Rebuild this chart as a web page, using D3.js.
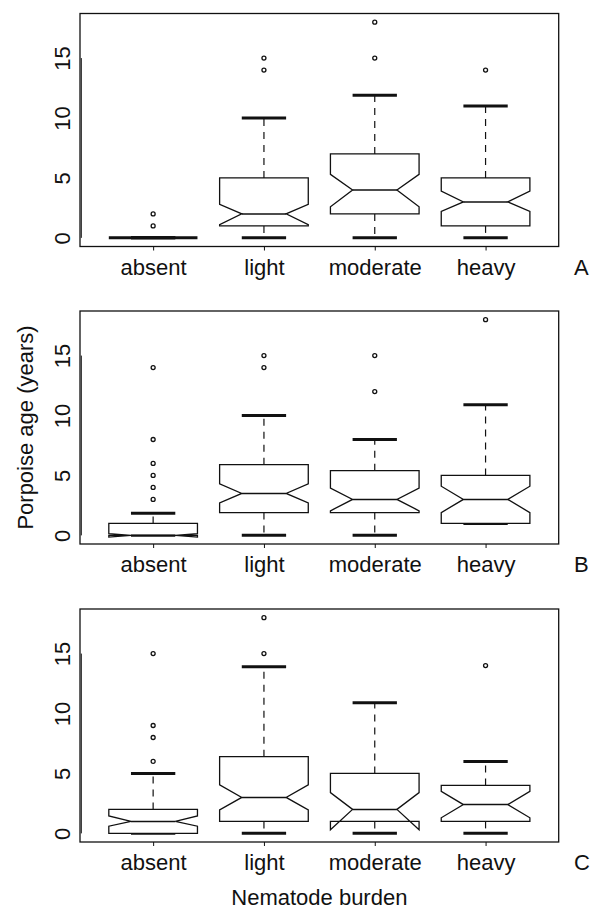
<!DOCTYPE html>
<html><head><meta charset="utf-8">
<script src="https://cdn.jsdelivr.net/npm/d3@7"></script>
<style>
html,body{margin:0;padding:0;background:#fff;}
svg{display:block;}
text{font-family:"Liberation Sans",Arial,Helvetica,sans-serif;fill:#111;}
</style></head>
<body>
<svg id="chart" width="590" height="911"></svg>
<script>
// ---- data ----
const categories = ["absent", "light", "moderate", "heavy"];
const panelLabels = ["A", "B", "C"];
const yTicks = [0, 5, 10, 15];
const yLabel = "Porpoise age (years)";
const xLabel = "Nematode burden";

// rows: panels A, B, C ; columns: absent, light, moderate, heavy
const whiskerLow  = [[0, 0, 0, 0], [0, 0, 0, 1], [0, 0, 0, 0]];
const quart1      = [[0, 1, 2, 1], [0, 1.9, 1.9, 1], [0, 1, 1, 1]];
const medians     = [[0, 2, 4, 3], [0, 3.5, 3, 3], [1, 3, 2, 2.4]];
const quart3      = [[0, 5, 7, 5], [1, 5.9, 5.4, 5], [2, 6.4, 5, 4]];
const whiskerHigh = [[0, 10, 11.9, 11], [1.85, 10, 8, 10.9], [5, 13.9, 10.9, 6]];
const notchLow    = [[0, 1.1, 2.6, 2.2], [-0.15, 2.7, 2.05, 1.9], [0.6, 1.95, 0.3, 1.3]];
const notchHigh   = [[0, 2.8, 5.3, 3.9], [0.15, 4.3, 3.95, 4.1], [1.45, 4.05, 3.4, 3.5]];
const outliers    = [
  [[1, 2], [14, 15], [15, 18], [14]],
  [[3, 4, 5, 6, 8, 14], [14, 15], [12, 15], [18]],
  [[6, 8, 9, 15], [15, 18], [], [14]]
];

// ---- layout ----
const svg = d3.select("#chart");
const left = 80, right = 558.7, frameH = 233;
const tops = [13.5, 311, 609];
const fontSize = 22;

const x = d3.scaleLinear().domain([0.34, 4.66]).range([left, right]);
const halfW = 0.4;   // box half width in category units
const capW = 0.2;    // staple half width

tops.forEach((top, p) => {
  const g = svg.append("g");
  const y = d3.scaleLinear().domain([-0.72, 18.72]).range([top + frameH, top]);

  // frame
  g.append("rect").attr("x", left).attr("y", top).attr("width", right - left).attr("height", frameH)
    .attr("fill", "none").attr("stroke", "#111").attr("stroke-width", 1.3);

  // y axis
  const ya = g.append("g").attr("transform", `translate(${left},0)`)
    .call(d3.axisLeft(y).tickValues(yTicks).tickSize(0).tickPadding(0));
  ya.select(".domain").remove();
  ya.selectAll("text").attr("transform", "rotate(-90)").attr("x", 0).attr("y", -10).attr("dy", 0)
    .attr("text-anchor", "middle").style("font-size", fontSize + "px").style("font-family", null);
  g.append("line").attr("x1", left + 1.3).attr("x2", left + 1.3).attr("y1", y(0)).attr("y2", y(15))
    .attr("stroke", "#111").attr("stroke-width", 1);

  // x axis
  const xa = g.append("g").attr("transform", `translate(0,${top + frameH})`)
    .call(d3.axisBottom(x).tickValues([1, 2, 3, 4]).tickFormat((d, i) => categories[i]).tickSize(4));
  xa.select(".domain").remove();
  xa.selectAll("line").attr("stroke", "#111");
  xa.selectAll("text").attr("y", 28).attr("dy", 0).style("font-size", fontSize + "px").style("font-family", null);

  // panel letter
  g.append("text").attr("x", 574).attr("y", top + frameH + 28).style("font-size", fontSize + "px").text(panelLabels[p]);

  categories.forEach((c, i) => {
    const cx = i + 1;
    const wl = whiskerLow[p][i], q1 = quart1[p][i], md = medians[p][i], q3 = quart3[p][i],
          wh = whiskerHigh[p][i], n1 = notchLow[p][i], n2 = notchHigh[p][i];
    // whiskers
    g.append("line").attr("x1", x(cx)).attr("x2", x(cx)).attr("y1", y(q3)).attr("y2", y(wh))
      .attr("stroke", "#111").attr("stroke-width", 1.2).attr("stroke-dasharray", "7,6");
    g.append("line").attr("x1", x(cx)).attr("x2", x(cx)).attr("y1", y(q1)).attr("y2", y(wl))
      .attr("stroke", "#111").attr("stroke-width", 1.2).attr("stroke-dasharray", "7,6");
    // staples
    [wl, wh].forEach(v => {
      g.append("line").attr("x1", x(cx - capW)).attr("x2", x(cx + capW)).attr("y1", y(v)).attr("y2", y(v))
        .attr("stroke", "#111").attr("stroke-width", 3);
    });
    // notched box
    const pts = [
      [cx - halfW, q1], [cx + halfW, q1], [cx + halfW, n1], [cx + halfW / 2, md], [cx + halfW, n2],
      [cx + halfW, q3], [cx - halfW, q3], [cx - halfW, n2], [cx - halfW / 2, md], [cx - halfW, n1]
    ];
    g.append("polygon").attr("points", pts.map(d => [x(d[0]), y(d[1])].join(",")).join(" "))
      .attr("fill", "#fff").attr("stroke", "#111").attr("stroke-width", (q3 - q1) === 0 ? 3 : 1.3)
      .attr("stroke-linejoin", "miter");
    // median
    g.append("line").attr("x1", x(cx - halfW / 2)).attr("x2", x(cx + halfW / 2)).attr("y1", y(md)).attr("y2", y(md))
      .attr("stroke", "#111").attr("stroke-width", 1.5);
    // outliers
    g.selectAll(null).data(outliers[p][i]).enter().append("circle")
      .attr("cx", x(cx)).attr("cy", d => y(d)).attr("r", 2)
      .attr("fill", "none").attr("stroke", "#111").attr("stroke-width", 1.3);
  });

  if (p === 1) {
    svg.append("text").attr("transform", `translate(33,${top + frameH / 2}) rotate(-90)`)
      .attr("text-anchor", "middle").style("font-size", fontSize + "px").text(yLabel);
  }
});

svg.append("text").attr("x", (left + right) / 2).attr("y", 905).attr("text-anchor", "middle")
  .style("font-size", fontSize + "px").text(xLabel);
</script>
</body></html>
